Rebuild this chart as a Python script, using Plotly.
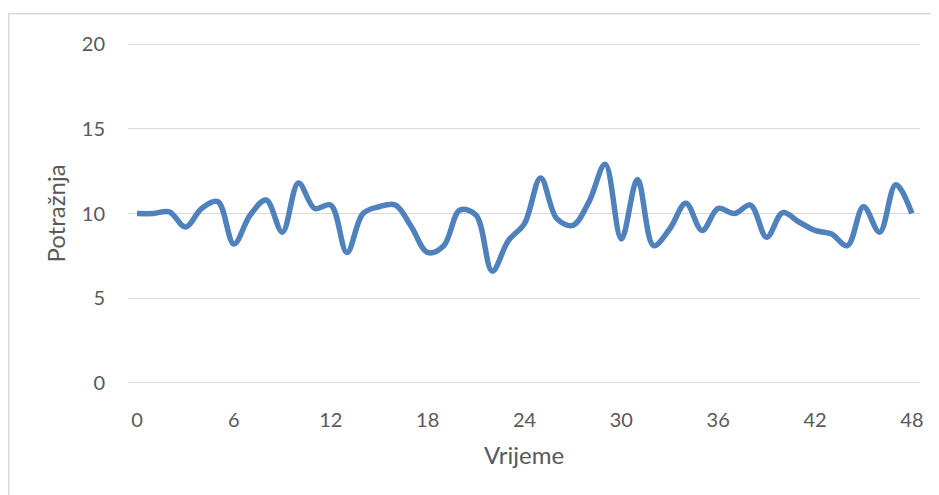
import plotly.graph_objects as go

vrijeme = list(range(49))
potraznja = [10.0, 10.0, 10.1, 9.2, 10.3, 10.7, 8.2, 9.9, 10.8, 8.9,
             11.8, 10.3, 10.5, 7.7, 10.0, 10.4, 10.5, 9.2, 7.7, 8.1,
             10.2, 9.9, 6.6, 8.4, 9.4, 12.1, 9.7, 9.3, 10.7, 12.9,
             8.5, 12.0, 8.1, 9.1, 10.6, 9.0, 10.3, 10.0, 10.5, 8.6,
             10.05, 9.5, 9.0, 8.8, 8.1, 10.4, 8.9, 11.7, 10.0]
x_ticks = [0, 6, 12, 18, 24, 30, 36, 42, 48]
y_ticks = [0, 5, 10, 15, 20]

font_family = "Lato, 'Open Sans', sans-serif"
text_color = "#595959"

fig = go.Figure()
fig.add_trace(go.Scatter(
    x=vrijeme, y=potraznja, mode="lines",
    line=dict(color="#4F81BD", width=5.5, shape="spline", smoothing=1),
    hoverinfo="skip", showlegend=False,
))

fig.update_layout(
    width=939, height=495,
    margin=dict(l=120, r=27, t=34, b=118),
    paper_bgcolor="white", plot_bgcolor="white",
    font=dict(family=font_family, size=20, color=text_color),
    xaxis=dict(
        range=[-0.56, 48.5], tickvals=x_ticks, ticktext=[str(v) for v in x_ticks],
        showgrid=False, zeroline=False, showline=False, ticks="",
        ticklabelstandoff=21,
        title=dict(text="Vrijeme", standoff=17, font=dict(size=24)),
    ),
    yaxis=dict(
        range=[-0.12, 20.12], tickvals=y_ticks, ticktext=[str(v) for v in y_ticks],
        showgrid=True, gridcolor="#D9D9D9", gridwidth=1.3,
        zeroline=False, showline=False, ticks="",
        ticklabelstandoff=22,
        title=dict(text="Potražnja", standoff=9, font=dict(size=24)),
    ),
    shapes=[dict(
        type="rect", xref="paper", yref="paper",
        x0=-0.1506, x1=1.0227, y0=-0.45, y1=1.082,
        line=dict(color="#D9D9D9", width=1.5), fillcolor="rgba(0,0,0,0)",
        layer="below",
    )],
)

fig.write_html("out.html")
